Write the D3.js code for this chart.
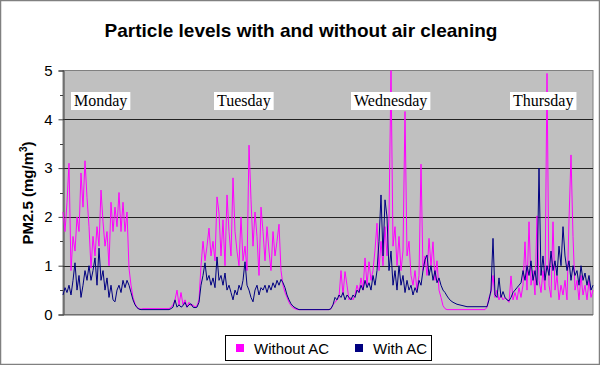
<!DOCTYPE html>
<html><head><meta charset="utf-8">
<script src="https://cdn.jsdelivr.net/npm/d3@7"></script>
<style>html,body{margin:0;padding:0;background:#fff;}svg{display:block;}</style>
</head><body>
<script>
// ---- data ----
const title = "Particle levels with and without air cleaning";
const seriesNames = ["Without AC", "With AC"];
const dayLabels = ["Monday", "Tuesday", "Wednesday", "Thursday"];
const dayLabelIndex = [4, 75.5, 144, 223.5];
const yTicks = [0, 1, 2, 3, 4, 5];
const withoutAC = [
2.1,1.7,2.3,3.1,0.9,1.6,1.3,2.0,1.7,2.9,
2.2,3.15,2.4,1.8,0.95,1.6,1.2,1.8,1.4,2.55,
1.9,1.4,1.7,1.0,2.3,1.7,2.2,1.8,2.5,1.7,
2.3,1.7,2.1,0.95,0.6,0.35,0.22,0.15,0.12,0.11,
0.12,0.12,0.12,0.12,0.12,0.12,0.12,0.12,0.12,0.12,
0.12,0.12,0.12,0.12,0.15,0.2,0.3,0.5,0.2,0.45,
0.2,0.3,0.15,0.25,0.18,0.2,0.15,0.18,0.3,1.0,
1.5,1.1,1.4,1.77,1.2,1.5,1.1,2.41,2.08,1.2,
1.94,1.0,2.45,1.7,1.2,2.8,1.7,1.3,1.0,2.0,
1.1,1.4,0.9,3.47,2.35,1.4,2.1,1.6,0.8,2.2,
1.7,1.1,1.8,1.3,0.9,1.7,1.2,1.5,1.85,0.9,
0.6,0.45,0.35,0.25,0.18,0.14,0.12,0.1,0.1,0.1,
0.1,0.1,0.1,0.1,0.1,0.1,0.1,0.1,0.1,0.1,
0.1,0.1,0.1,0.1,0.12,0.2,0.25,0.3,0.35,0.9,
0.4,0.88,0.6,0.3,0.35,0.3,0.4,0.6,0.45,0.75,
0.5,1.16,0.6,1.08,0.7,0.9,1.32,1.87,0.9,1.5,
1.0,1.8,1.2,2.0,5.0,1.4,1.8,1.0,1.6,0.9,
1.3,4.16,1.2,1.5,0.8,0.6,0.9,0.5,0.8,3.08,
0.9,1.2,0.8,1.56,1.0,1.49,0.7,1.1,0.5,0.35,
0.18,0.12,0.1,0.1,0.1,0.1,0.1,0.1,0.1,0.1,
0.1,0.1,0.1,0.1,0.1,0.1,0.1,0.1,0.1,0.1,
0.1,0.1,0.15,0.35,0.45,0.8,0.35,0.5,0.3,0.4,
0.3,0.35,0.3,0.25,0.79,0.3,0.45,0.3,0.55,0.35,
0.6,1.49,0.5,1.9,0.6,0.9,0.4,2.02,0.7,0.45,
0.9,0.5,4.94,0.6,0.35,1.9,0.5,0.8,0.3,0.6,
0.4,0.7,0.3,1.94,3.27,1.6,0.5,0.7,0.3,0.8,
0.4,0.6,0.3,0.7,0.35,0.5
];
const withAC = [
0.4,0.55,0.45,0.6,0.4,0.7,1.06,0.5,0.8,0.35,
0.6,0.9,0.7,1.0,0.7,0.9,1.16,0.6,1.36,0.7,
0.9,0.5,0.75,0.35,0.6,0.3,0.26,0.5,0.6,0.45,
0.7,0.55,0.7,0.6,0.45,0.3,0.2,0.14,0.11,0.1,
0.1,0.1,0.1,0.1,0.1,0.1,0.1,0.1,0.1,0.1,
0.1,0.1,0.1,0.1,0.12,0.15,0.3,0.15,0.2,0.15,
0.18,0.25,0.15,0.2,0.22,0.15,0.14,0.15,0.25,0.6,
0.8,1.06,0.7,0.8,0.6,0.75,0.55,1.18,0.7,0.8,
0.6,0.85,0.5,0.6,0.45,0.3,0.5,0.4,0.6,0.5,
0.7,1.08,0.6,0.5,0.35,0.26,0.5,0.6,0.4,0.55,
0.5,0.6,0.45,0.6,0.5,0.65,0.55,0.7,0.6,0.72,
0.65,0.55,0.4,0.3,0.22,0.17,0.14,0.12,0.1,0.1,
0.1,0.1,0.1,0.1,0.1,0.1,0.1,0.1,0.1,0.1,
0.1,0.1,0.1,0.1,0.12,0.2,0.35,0.3,0.4,0.35,
0.45,0.3,0.4,0.35,0.3,0.4,0.35,0.5,0.45,0.6,
0.5,0.7,0.55,0.65,0.5,0.8,0.6,0.9,1.5,2.45,
1.2,2.35,2.0,0.9,1.3,0.6,0.9,0.5,1.0,0.6,
0.8,0.45,0.7,0.5,0.6,0.4,0.55,0.45,0.7,0.6,
0.9,1.12,1.22,0.8,1.0,0.7,0.9,0.65,0.75,0.6,
0.5,0.45,0.38,0.32,0.28,0.25,0.23,0.21,0.2,0.19,
0.18,0.17,0.16,0.16,0.16,0.16,0.16,0.16,0.16,0.16,
0.16,0.16,0.16,0.3,0.5,1.56,0.4,0.35,0.75,0.35,
0.47,0.35,0.3,0.28,0.35,0.45,0.5,0.55,0.6,0.65,
0.9,0.7,1.0,0.8,1.1,0.7,0.9,0.6,3.0,0.8,
1.2,0.7,1.0,0.8,1.3,0.9,1.1,0.8,1.4,1.0,
1.8,1.2,0.9,1.1,0.7,1.0,0.8,0.9,0.6,1.0,
0.7,0.85,0.6,0.8,0.5,0.6
];
const colors = ["#ff00ff", "#000080"];

// ---- layout ----
const W = 600, H = 365;
const plot = {left: 63, right: 593, top: 70.5, bottom: 314.5};
const FONT = "Arial, 'Liberation Sans', sans-serif";

const svg = d3.select("body").append("svg").attr("width", W).attr("height", H);
svg.append("rect").attr("x", 0.5).attr("y", 0.5).attr("width", W - 1).attr("height", H - 1)
  .attr("fill", "#fff").attr("stroke", "#808080").attr("stroke-width", 1.5);

const x = d3.scaleLinear().domain([0, withoutAC.length - 1]).range([plot.left, plot.right]);
const y = d3.scaleLinear().domain([0, 5]).range([plot.bottom, plot.top]);

// plot background
svg.append("rect").attr("x", plot.left).attr("y", plot.top)
  .attr("width", plot.right - plot.left).attr("height", plot.bottom - plot.top)
  .attr("fill", "#c0c0c0").attr("stroke", "#808080").attr("stroke-width", 1);

// gridlines
svg.append("g").selectAll("line").data(yTicks.filter(v => v > 0 && v < 5)).join("line")
  .attr("x1", plot.left).attr("x2", plot.right)
  .attr("y1", d => Math.round(y(d)) + 0.5).attr("y2", d => Math.round(y(d)) + 0.5)
  .attr("stroke", "#222").attr("stroke-width", 1);

// y axis
const yAxis = d3.axisLeft(y).tickValues(yTicks).tickSize(5).tickPadding(6).tickFormat(d3.format("d"));
const ga = svg.append("g").attr("transform", `translate(${plot.left + 0.5},0)`).call(yAxis);
ga.select(".domain").attr("stroke", "#404040");
ga.selectAll(".tick line").attr("stroke", "#404040");
ga.selectAll("text").attr("font-family", FONT).attr("font-size", 15).attr("fill", "#000");
const minor = d3.range(0.5, 5, 1);
svg.append("g").selectAll("line").data(minor).join("line")
  .attr("x1", plot.left - 3).attr("x2", plot.left)
  .attr("y1", d => Math.round(y(d)) + 0.5).attr("y2", d => Math.round(y(d)) + 0.5)
  .attr("stroke", "#404040");
// bottom axis line
svg.append("line").attr("x1", plot.left).attr("x2", plot.right)
  .attr("y1", plot.bottom + 0.5).attr("y2", plot.bottom + 0.5).attr("stroke", "#606060");

// lines
const line = d3.line().x((d, i) => x(i)).y(d => y(d));
svg.append("path").datum(withoutAC).attr("d", line).attr("fill", "none")
  .attr("stroke", colors[0]).attr("stroke-width", 1);
svg.append("path").datum(withAC).attr("d", line).attr("fill", "none")
  .attr("stroke", colors[1]).attr("stroke-width", 1);

// day labels
dayLabels.forEach((lab, k) => {
  const g = svg.append("g");
  const t = g.append("text").attr("x", x(dayLabelIndex[k]) + 3).attr("y", 106)
    .attr("font-family", "'Times New Roman', 'Liberation Serif', serif").attr("font-size", 16)
    .attr("fill", "#000").text(lab);
  const bb = t.node().getBBox();
  g.insert("rect", "text").attr("x", bb.x - 3).attr("y", 92).attr("width", bb.width + 6).attr("height", 18)
    .attr("fill", "#fff");
});

// title
svg.append("text").attr("x", 301).attr("y", 37).attr("text-anchor", "middle")
  .attr("font-family", FONT).attr("font-weight", "bold")
  .attr("font-size", 19).attr("fill", "#000").text(title);

// y title
const yt = svg.append("text").attr("transform", `translate(33,193) rotate(-90)`)
  .attr("text-anchor", "middle").attr("font-family", FONT)
  .attr("font-weight", "bold").attr("font-size", 15).attr("fill", "#000");
yt.append("tspan").text("PM2.5 (mg/m");
yt.append("tspan").attr("font-size", 10).attr("dy", -6).text("3");
yt.append("tspan").attr("dy", 6).text(")");

// legend
const lg = svg.append("g");
lg.append("rect").attr("x", 225.5).attr("y", 335.5).attr("width", 206).attr("height", 25)
  .attr("fill", "#fff").attr("stroke", "#000");
const legX = [236, 355];
seriesNames.forEach((n, k) => {
  lg.append("rect").attr("x", legX[k]).attr("y", 344).attr("width", 8).attr("height", 8).attr("fill", colors[k]);
  lg.append("text").attr("x", legX[k] + 18).attr("y", 353.5).attr("font-family", FONT)
    .attr("font-size", 15).attr("fill", "#000").text(n);
});
</script>
</body></html>
